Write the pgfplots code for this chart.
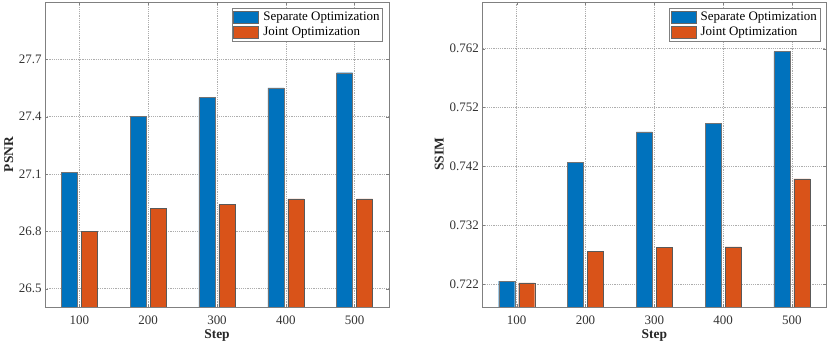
\documentclass[border=0pt]{standalone}
\usepackage{fontspec}
\setmainfont{Liberation Serif}
\usepackage{pgfplots}
\usepackage{pgfplotstable}
\pgfplotsset{compat=1.18}

\definecolor{sepblue}{RGB}{0,114,189}
\definecolor{jointred}{RGB}{217,83,25}

% step, separate, joint
\pgfplotstableread{
x sep joint
1 27.11 26.80
2 27.40 26.92
3 27.50 26.94
4 27.55 26.97
5 27.63 26.97
}\psnrdata
\pgfplotstableread{
x sep joint
1 0.7226 0.7223
2 0.7427 0.7276
3 0.7479 0.7283
4 0.7493 0.7284
5 0.7615 0.7399
}\ssimdata

\pgfplotsset{
  stepbars/.style={
    width=344bp, height=305bp, scale only axis,
    ybar=4bp, bar width=16bp,
    xmin=0.5, xmax=5.5,
    xtick={1,2,3,4,5}, xticklabels={100,200,300,400,500},
    xlabel={\textbf{Step}},
    grid=major,
    grid style={black!32, dash pattern=on 1.2bp off 1bp, line width=0.5bp},
    axis line style={black!50, line width=0.6bp},
    tick style={black!50},
    tick align=inside, major tick length=3bp,
    /pgf/number format/assume math mode=true,
    tick label style={font=\fontsize{13}{15}\selectfont, text=black!80},
    label style={font=\fontsize{13.5}{15}\selectfont\bfseries, text=black!85},
    xticklabel style={anchor=center, yshift=-13bp},
    xlabel style={at={([yshift=-28.7bp]rel axis cs:0.5,0)}, anchor=center},
    legend style={
      at={(rel axis cs:0.982,0.979)}, anchor=north east,
      draw=black!50, line width=0.5bp, inner sep=1.5bp,
      font=\fontsize{13}{15}\selectfont,
      cells={anchor=west},
      nodes={inner sep=1.5bp, text height=9bp, text depth=3bp},
    },
    legend image code/.code={
      \draw[#1, draw=black!60, line width=0.4bp] (0bp,-6bp) rectangle (25bp,6bp);
    },
  },
  sepbar/.style={fill=sepblue, draw=black!55, line width=0.4bp},
  jointbar/.style={fill=jointred, draw=black!65, line width=0.4bp},
}

\begin{document}
\begin{tikzpicture}
\begin{axis}[
  stepbars,
  ymin=26.404, ymax=28.0,
  ytick={26.5,26.8,27.1,27.4,27.7},
  yticklabel style={/pgf/number format/fixed, /pgf/number format/fixed zerofill, /pgf/number format/precision=1},
  ylabel={PSNR},
  ylabel style={at={([xshift=-36.3bp]rel axis cs:0,0.5)}, anchor=center},
]
\addplot[sepbar] table[x=x, y=sep] {\psnrdata};
\addlegendentry{\hspace{3bp}Separate Optimization}
\addplot[jointbar] table[x=x, y=joint] {\psnrdata};
\addlegendentry{\hspace{3bp}Joint Optimization}
\end{axis}

\begin{axis}[
  stepbars,
  xshift=437.3bp,
  ymin=0.7182, ymax=0.7699,
  ytick={0.722,0.732,0.742,0.752,0.762},
  yticklabel style={/pgf/number format/fixed, /pgf/number format/fixed zerofill, /pgf/number format/precision=3},
  scaled y ticks=false,
  ylabel={SSIM},
  ylabel style={at={([xshift=-43bp]rel axis cs:0,0.5)}, anchor=center},
]
\addplot[sepbar] table[x=x, y=sep] {\ssimdata};
\addlegendentry{\hspace{3bp}Separate Optimization}
\addplot[jointbar] table[x=x, y=joint] {\ssimdata};
\addlegendentry{\hspace{3bp}Joint Optimization}
\end{axis}

\pgfresetboundingbox
\path (-45bp,-41bp) rectangle (785bp,307bp);
\end{tikzpicture}
\end{document}
